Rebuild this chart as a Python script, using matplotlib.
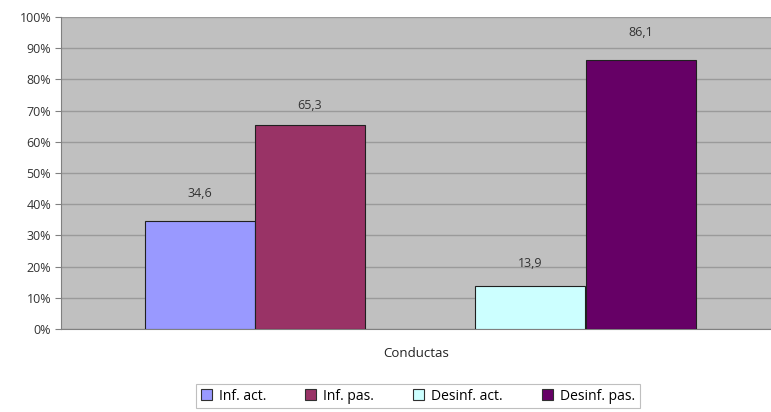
import matplotlib
matplotlib.use("Agg")
import matplotlib.pyplot as plt
from matplotlib.patches import Patch
from matplotlib.ticker import FuncFormatter, MultipleLocator

series = ["Inf. act.", "Inf. pas.", "Desinf. act.", "Desinf. pas."]
values = [34.6, 65.3, 13.9, 86.1]
value_labels = ["34,6", "65,3", "13,9", "86,1"]
colors = ["#9999ff", "#993366", "#ccffff", "#660066"]
category = "Conductas"

plt.rcParams["font.family"] = ["Open Sans", "DejaVu Sans"]

fig = plt.figure(figsize=(7.71, 4.12), dpi=100)
ax = fig.add_axes([61 / 771, 1 - 329 / 412, 710 / 771, 312 / 412])
ax.set_facecolor("#c0c0c0")

# bar centres along the axis (axis spans 0..710)
centers = [139, 249, 469, 580]
width = 110
# vertical gap (points) between bar top and the centre of its value label
label_gaps = [20, 14.5, 16, 20]
for c, v, col in zip(centers, values, colors):
    ax.bar(c, v, width=width, color=col, edgecolor="#202020", linewidth=0.8, zorder=3)
for c, v, lab, g in zip(centers, values, value_labels, label_gaps):
    ax.annotate(lab, (c, v), xytext=(0, g), textcoords="offset points",
                ha="center", va="center", fontsize=9, color="#333333")

ax.set_xlim(0, 710)
ax.set_ylim(0, 100)
ax.yaxis.set_major_locator(MultipleLocator(10))
ax.yaxis.set_major_formatter(FuncFormatter(lambda v, p: f"{v:.0f}%"))
ax.grid(axis="y", color="#9a9a9a", linewidth=1.0, zorder=1)
ax.set_xticks([])
ax.tick_params(axis="y", length=4, width=0.8, color="#808080", labelsize=9,
               labelcolor="#333333", pad=3)
for side in ["top", "right"]:
    ax.spines[side].set_visible(False)
ax.spines["left"].set_color("#808080")
ax.spines["bottom"].set_color("#808080")
ax.set_xlabel(category, fontsize=9.5, color="#222222", labelpad=13)

handles = [Patch(facecolor=c, edgecolor="#303030", linewidth=0.8, label=s)
           for s, c in zip(series, colors)]
leg = fig.legend(handles=handles, loc="center", ncol=4,
                 bbox_to_anchor=(418 / 771, 1 - 396 / 412),
                 fontsize=10, frameon=True, fancybox=False,
                 handlelength=0.8, handleheight=0.8, handletextpad=0.5,
                 columnspacing=2.8, borderpad=0.35)
leg.get_frame().set_edgecolor("#b0b0b0")
leg.get_frame().set_linewidth(0.8)

fig.savefig("out.png", dpi=100)
